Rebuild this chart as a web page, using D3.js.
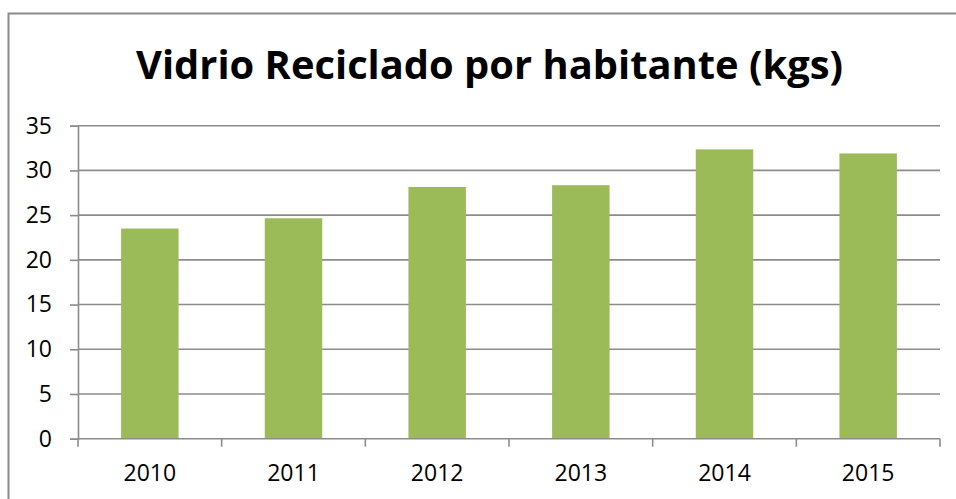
<!DOCTYPE html>
<html>
<head>
<meta charset="utf-8">
<script src="https://cdn.jsdelivr.net/npm/d3@7"></script>
<style>
  body { margin: 0; background: #fff; }
  svg { display: block; font-family: "Open Sans", sans-serif; }
</style>
</head>
<body>
<div id="chart"></div>
<script>
const years = ["2010", "2011", "2012", "2013", "2014", "2015"];
const kgs = [23.5, 24.65, 28.15, 28.35, 32.35, 31.9];
const yTicks = [0, 5, 10, 15, 20, 25, 30, 35];
const title = "Vidrio Reciclado por habitante (kgs)";

const width = 956;
const height = 499;
const margin = { top: 125.7, right: 16, bottom: 60.3, left: 78 };

const svg = d3
  .select("#chart")
  .append("svg")
  .attr("width", width)
  .attr("height", height);

// outer chart frame (runs off the right / bottom edges)
svg
  .append("rect")
  .attr("x", 8.5)
  .attr("y", 13.5)
  .attr("width", 964)
  .attr("height", 520)
  .attr("fill", "none")
  .attr("stroke", "#8a8a8a")
  .attr("stroke-width", 2);

const x = d3
  .scaleBand()
  .domain(years)
  .range([margin.left, width - margin.right])
  .paddingInner(0.6)
  .paddingOuter(0.3);

const y = d3
  .scaleLinear()
  .domain([0, 35])
  .range([height - margin.bottom, margin.top]);

const grey = "#8c8c8c";

// gridlines
svg
  .append("g")
  .selectAll("line")
  .data(yTicks.slice(1))
  .join("line")
  .attr("x1", margin.left)
  .attr("x2", width - margin.right)
  .attr("y1", (d) => y(d))
  .attr("y2", (d) => y(d))
  .attr("stroke", grey)
  .attr("stroke-width", 1.6);

// bars
svg
  .append("g")
  .selectAll("rect")
  .data(kgs)
  .join("rect")
  .attr("x", (d, i) => x(years[i]))
  .attr("y", (d) => y(d))
  .attr("width", x.bandwidth())
  .attr("height", (d) => y(0) - y(d))
  .attr("fill", "#9bbb59");

// y axis
const yAxis = svg
  .append("g")
  .attr("transform", `translate(${margin.left},0)`)
  .call(d3.axisLeft(y).tickValues(yTicks).tickSize(8).tickPadding(18));
yAxis.select(".domain").attr("stroke", grey).attr("stroke-width", 1.6);
yAxis.selectAll(".tick line").attr("stroke", grey).attr("stroke-width", 1.6);
yAxis
  .selectAll(".tick text")
  .attr("font-size", 23)
  .attr("font-family", "Open Sans")
  .attr("fill", "#000");

// x axis: ticks sit on category boundaries
const step = x.step();
const bounds = d3.range(years.length + 1).map((i) => margin.left + i * step);
const xAxis = svg.append("g");
xAxis
  .append("line")
  .attr("x1", margin.left)
  .attr("x2", width - margin.right)
  .attr("y1", y(0))
  .attr("y2", y(0))
  .attr("stroke", grey)
  .attr("stroke-width", 1.6);
xAxis
  .selectAll(".bt")
  .data(bounds)
  .join("line")
  .attr("class", "bt")
  .attr("x1", (d) => d)
  .attr("x2", (d) => d)
  .attr("y1", y(0))
  .attr("y2", y(0) + 8)
  .attr("stroke", grey)
  .attr("stroke-width", 1.6);
xAxis
  .selectAll("text")
  .data(years)
  .join("text")
  .attr("x", (d) => x(d) + x.bandwidth() / 2)
  .attr("y", 481)
  .attr("text-anchor", "middle")
  .attr("font-size", 23)
  .attr("fill", "#000")
  .text((d) => d);

// title, fitted to the reference width
const t = svg
  .append("text")
  .attr("x", 489.5)
  .attr("y", 79)
  .attr("text-anchor", "middle")
  .attr("font-weight", "bold")
  .attr("font-size", 40)
  .attr("fill", "#000")
  .text(title);
const w = t.node().getComputedTextLength();
t.attr("font-size", (40 * 707) / w);
</script>
</body>
</html>
